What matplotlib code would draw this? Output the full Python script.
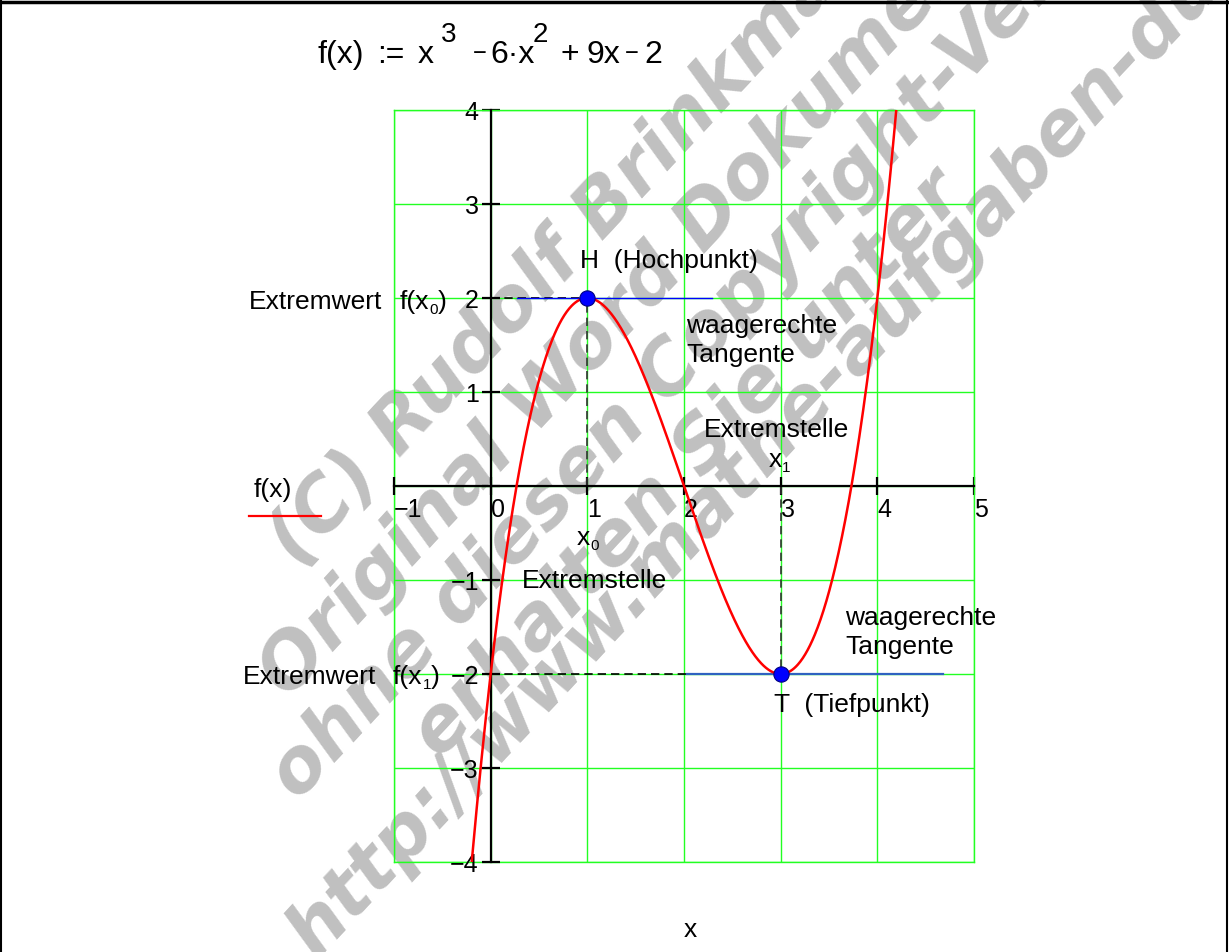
import numpy as np
import matplotlib
matplotlib.use("Agg")
import matplotlib.pyplot as plt
from matplotlib.transforms import IdentityTransform
from matplotlib.lines import Line2D

# ---------------- data ----------------
poly_coeffs = [1, -6, 9, -2]          # f(x) = x^3 - 6x^2 + 9x - 2
x_range = [-1, 5]
y_range = [-4, 4]
x_ticks = [-1, 0, 1, 2, 3, 4, 5]
x_tick_labels = ["\u22121", "0", "1", "2", "3", "4", "5"]
y_ticks = [-4, -3, -2, -1, 0, 1, 2, 3, 4]
y_tick_labels = ["\u22124", "\u22123", "\u22122", "\u22121", "", "1", "2", "3", "4"]
max_point = [1, 2]       # H (Hochpunkt)
min_point = [3, -2]      # T (Tiefpunkt)
tangent_H = [0.27, 2.29]  # x-extent of horizontal tangent at H
tangent_T = [2.03, 4.68]  # x-extent of horizontal tangent at T
watermark_lines = ["(C) Rudolf Brinkmann", "Original Word Dokument- Version",
                   "ohne diesen Copyright-Vermerk", "erhalten Sie unter",
                   "http://www.mathe-aufgaben-dummies.de"]

W, H = 1229, 952
FONT = ["Liberation Sans", "DejaVu Sans"]
plt.rcParams["font.family"] = FONT
plt.rcParams["xtick.labelsize"] = 18
plt.rcParams["ytick.labelsize"] = 18

fig = plt.figure(figsize=(W / 100, H / 100), dpi=100)
fig.patch.set_facecolor("white")
renderer = fig.canvas.get_renderer()

# ---------------- watermark ----------------
wm_starts = [(298, 568), (288, 700), (298, 802), (440, 760), (316, 960)]
for s, (sx, sy) in zip(watermark_lines, wm_starts):
    fig.text(sx, H - sy, s, transform=IdentityTransform(), rotation=47,
             rotation_mode="anchor", ha="left", va="baseline",
             fontsize=54, fontweight="bold", fontstyle="oblique", color="#c0c0c0",
             family="DejaVu Sans", zorder=-5)

# ---------------- axes ----------------
ax = fig.add_axes([394 / W, (H - 862) / H, 580 / W, 752 / H])
ax.set_facecolor("none")
ax.set_xlim(*x_range)
ax.set_ylim(*y_range)

grid_c = "#22ff22"
for xv in x_ticks:
    ax.axvline(xv, color=grid_c, lw=1.0, zorder=1)
for yv in y_ticks:
    ax.axhline(yv, color=grid_c, lw=1.0, zorder=1)
for side in ["top", "right"]:
    ax.spines[side].set_color(grid_c)
    ax.spines[side].set_linewidth(1.0)
ax.spines["left"].set_position(("data", 0))
ax.spines["bottom"].set_position(("data", 0))
for side in ["left", "bottom"]:
    ax.spines[side].set_color("black")
    ax.spines[side].set_linewidth(1.6)
    ax.spines[side].set_zorder(3)
ax.plot([x_range[0]] * 2, y_range, color=grid_c, lw=1.0, zorder=1, clip_on=False)
ax.plot(x_range, [y_range[0]] * 2, color=grid_c, lw=1.0, zorder=1, clip_on=False)

ax.set_xticks(x_ticks)
ax.set_xticklabels(x_tick_labels, fontsize=18, ha="left")
ax.set_yticks(y_ticks)
ax.set_yticklabels(y_tick_labels, fontsize=18)
ax.tick_params(axis="both", direction="inout", length=13, width=1.6, color="black",
               pad=2, labelsize=18)

# curve
xs = np.linspace(x_range[0], x_range[1], 1200)
ys = np.polyval(poly_coeffs, xs)
ax.plot(xs, ys, color="red", lw=1.8, zorder=4)

# dashed helper lines
ax.plot([0, max_point[0]], [max_point[1]] * 2, color="black", lw=1.2, ls=(0, (5, 3)), zorder=3)
ax.plot([max_point[0]] * 2, [0, max_point[1]], color="#333333", lw=1.2, ls=(0, (5, 3)), zorder=3)
ax.plot([0, min_point[0]], [min_point[1]] * 2, color="black", lw=1.2, ls=(0, (5, 3)), zorder=3)
ax.plot([min_point[0]] * 2, [0, min_point[1]], color="#333333", lw=1.2, ls=(0, (5, 3)), zorder=3)
# tangents
ax.plot(tangent_H, [max_point[1]] * 2, color="blue", lw=1.0, zorder=3.5)
ax.plot(tangent_T, [min_point[1]] * 2, color="#2f62c0", lw=1.6, zorder=3.5)
# extrema
ax.plot([max_point[0], min_point[0]], [max_point[1], min_point[1]], "o", color="blue",
        ms=11, mec="#000080", mew=0.8, zorder=6, clip_on=False)


# ---------------- text helpers ----------------
def put(x, base_y, s, size=19, **kw):
    return fig.text(x, H - base_y, s, transform=IdentityTransform(), fontsize=size,
                    ha="left", va="baseline", **kw)


def chain(x, base_y, items):
    """items: (text, size, raise_px, gap_px)"""
    for s, size, dy, gap in items:
        t = fig.text(x, H - base_y + dy, s, transform=IdentityTransform(),
                     fontsize=size, ha="left", va="baseline")
        x = t.get_window_extent(renderer).x1 + gap


# title formula
put(318, 63, "f(x)", 23)
put(377, 63, ":=", 23)
put(418, 63, "x", 23)
put(441, 42, "3", 20)
put(473, 60, "\u2212", 17)
put(490, 63, "6\u00b7x", 23)
put(533, 42, "2", 20)
put(561, 63, "+", 23)
put(586, 63, "9x", 23)
put(625, 60, "\u2212", 17)
put(644, 63, "2", 23)

# annotations
put(580, 268, "H  (Hochpunkt)")
put(249, 309, "Extremwert")
chain(400, 309, [("f(x", 19, 0, 0), ("0", 11, -5, 0), (")", 19, 0, 0)])
put(686, 333, "waagerechte")
put(686, 362, "Tangente")
put(704, 437, "Extremstelle")
chain(769, 467, [("x", 19, 0, 0), ("1", 11, -5, 0)])
chain(577, 545, [("x", 19, 0, 0), ("0", 11, -5, 0)])
put(522, 588, "Extremstelle")
put(845, 625, "waagerechte")
put(845, 654, "Tangente")
put(243, 684, "Extremwert")
chain(393, 684, [("f(x", 19, 0, 0), ("1", 11, -5, 0), (")", 19, 0, 0)])
put(774, 712, "T  (Tiefpunkt)")

# legend
put(254, 497, "f(x)", 19)
fig.add_artist(Line2D([249 / W, 321 / W], [(H - 516) / H] * 2, color="red", lw=1.6))

# axis label
put(684, 937, "x", 19)

# figure border (top, left, right)
fig.add_artist(Line2D([0, 1], [1 - 1.5 / H] * 2, color="black", lw=2.5))
fig.add_artist(Line2D([0.5 / W] * 2, [0, 1], color="black", lw=1.5))
fig.add_artist(Line2D([1 - 2.5 / W] * 2, [0, 1], color="black", lw=1.5))

fig.savefig("out.png", dpi=100, facecolor="white")
